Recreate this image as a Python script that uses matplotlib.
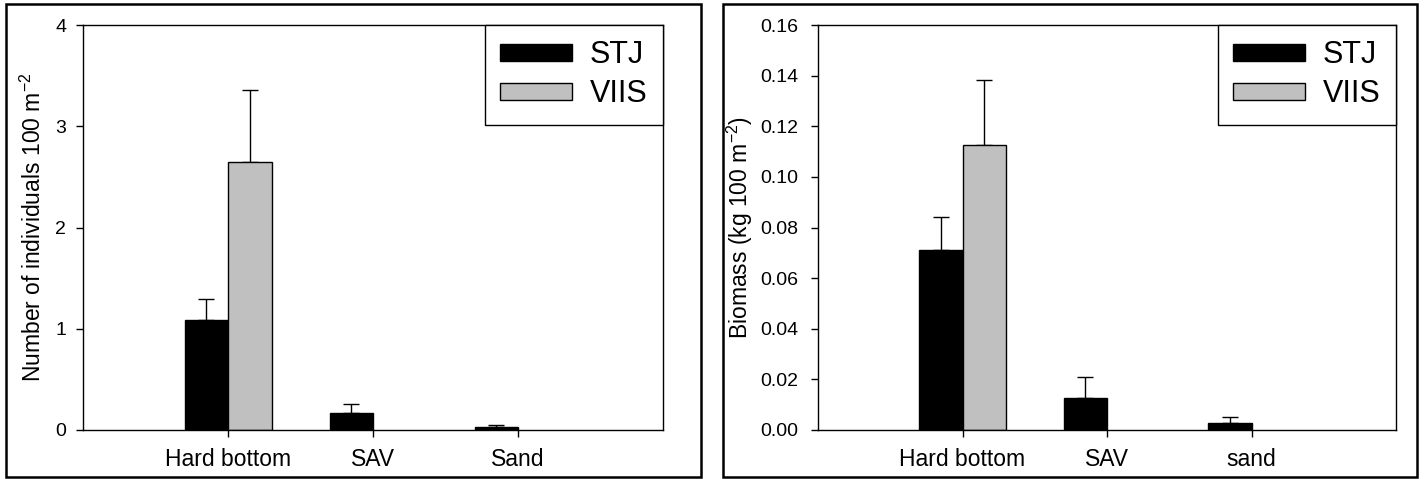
import numpy as np
import matplotlib
matplotlib.use('Agg')
import matplotlib.pyplot as plt
from matplotlib.patches import Rectangle

plt.rcParams['font.family'] = ['Liberation Sans', 'DejaVu Sans']
plt.rcParams['mathtext.fontset'] = 'custom'
plt.rcParams['mathtext.rm'] = 'Liberation Sans'
plt.rcParams['mathtext.it'] = 'Liberation Sans:italic'

# data
habitats_left = ['Hard bottom', 'SAV', 'Sand']
habitats_right = ['Hard bottom', 'SAV', 'sand']
series = ['STJ', 'VIIS']

density_stj = [1.09, 0.17, 0.033]
density_stj_err = [0.20, 0.09, 0.017]
density_viis = [2.65, 0.0, 0.0]
density_viis_err = [0.71, 0.0, 0.0]

biomass_stj = [0.0713, 0.0125, 0.0029]
biomass_stj_err = [0.0127, 0.0083, 0.0024]
biomass_viis = [0.1126, 0.0, 0.0]
biomass_viis_err = [0.0257, 0.0, 0.0]

W, H = 1424, 479
fig = plt.figure(figsize=(W / 100, H / 100), dpi=100)

bar_w = 0.3
colors = ['black', '#c0c0c0']


def panel(rect, cats, stj, stj_err, viis, viis_err, ymax, yticks, fmt, ylabel, tickpad, labelpad):
    ax = fig.add_axes(rect)
    x = np.arange(len(cats))
    vals = [np.array(stj), np.array(viis)]
    errs = [np.array(stj_err), np.array(viis_err)]
    for i, name in enumerate(series):
        pos = x - bar_w + i * bar_w
        keep = vals[i] > 0  # empty bars are not drawn in the original
        ax.bar(pos[keep], vals[i][keep], width=bar_w, align='edge', color=colors[i],
               edgecolor='black', linewidth=1, label=name, zorder=2)
        ax.errorbar(pos[keep] + bar_w / 2, vals[i][keep],
                    yerr=[np.zeros(keep.sum()), errs[i][keep]], fmt='none',
                    ecolor='black', elinewidth=1, capsize=6, capthick=1, zorder=1)
    ax.set_xlim(-1, 3)
    ax.set_ylim(0, ymax)
    ax.set_yticks(yticks)
    ax.set_yticklabels([fmt.format(v) for v in yticks])
    ax.set_xticks(x)
    ax.set_xticklabels(cats)
    ax.tick_params(axis='y', direction='out', length=5, width=1, labelsize=14, pad=tickpad)
    ax.tick_params(axis='x', direction='out', length=5, width=1, labelsize=16.5, pad=8)
    for s in ax.spines.values():
        s.set_linewidth(1)
    ax.set_ylabel(ylabel, fontsize=16.5, labelpad=labelpad)
    leg = ax.legend(loc='upper right', borderaxespad=0, fancybox=False,
                    edgecolor='black', fontsize=22, handlelength=2.35,
                    handleheight=0.45, handletextpad=0.6, borderpad=0.5,
                    labelspacing=0.3, framealpha=1)
    leg.get_frame().set_linewidth(1)
    return ax


panel([83 / W, 49 / H, 580 / W, 405 / H], habitats_left,
      density_stj, density_stj_err, density_viis, density_viis_err,
      4, [0, 1, 2, 3, 4], '{:.0f}',
      r'Number of individuals 100 m$^{-2}$', 7, 7)

panel([818 / W, 49 / H, 578 / W, 405 / H], habitats_right,
      biomass_stj, biomass_stj_err, biomass_viis, biomass_viis_err,
      0.16, [0, 0.02, 0.04, 0.06, 0.08, 0.10, 0.12, 0.14, 0.16], '{:.2f}',
      r'Biomass (kg 100 m$^{-2}$)', 9, 4)

# outer frames around each panel
for x0, x1 in [(6, 701), (723, 1417)]:
    fig.patches.append(Rectangle((x0 / W, 2 / H), (x1 - x0) / W, 473 / H,
                                 transform=fig.transFigure, fill=False,
                                 edgecolor='black', linewidth=1.8))

fig.savefig('out.png', dpi=100)
